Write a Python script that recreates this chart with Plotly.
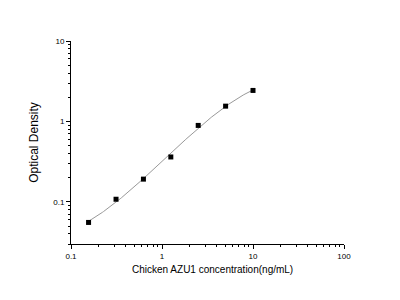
import numpy as np
import plotly.graph_objects as go

conc = [0.156, 0.3125, 0.625, 1.25, 2.5, 5, 10]
od = [0.0556, 0.108, 0.192, 0.362, 0.893, 1.55, 2.43]

# smooth fitted curve (cubic in log-log space, fitted to the data)
lx = np.log10(conc)
ly = np.log10(od)
coef = np.polyfit(lx, ly, 3)
xs = np.linspace(lx[0], lx[-1], 200)
fit_x = 10 ** xs
fit_y = 10 ** np.polyval(coef, xs)

fig = go.Figure()
fig.add_trace(go.Scatter(x=fit_x, y=fit_y, mode="lines",
                         line=dict(color="#999999", width=1), hoverinfo="skip"))
fig.add_trace(go.Scatter(x=conc, y=od, mode="markers",
                         marker=dict(symbol="square", size=5, color="black")))

axis_common = dict(type="log", showgrid=False, zeroline=False, showline=True,
                   linecolor="black", linewidth=1, ticks="outside", ticklen=4,
                   tickcolor="black", dtick=1, mirror=False,
                   tickfont=dict(family="Arial", size=8, color="black"),
                   minor=dict(ticks="outside", ticklen=2, tickcolor="black", showgrid=False))

fig.update_layout(
    width=400, height=300,
    margin=dict(l=71, r=56, t=41, b=56),
    plot_bgcolor="white", paper_bgcolor="white",
    showlegend=False,
    xaxis=dict(axis_common, range=[-1, 2]),
    yaxis=dict(axis_common, range=[np.log10(0.03), 1],
               title=dict(text="Optical Density",
                          font=dict(family="Arial", size=12, color="black"), standoff=12)),
    annotations=[dict(text="Chicken AZU1 concentration(ng/mL)", xref="paper", yref="paper",
                      x=0.52, y=-25 / 203, xanchor="center", yanchor="middle",
                      showarrow=False, font=dict(family="Arial", size=10, color="black"))],
)

fig.write_html("out.html")
